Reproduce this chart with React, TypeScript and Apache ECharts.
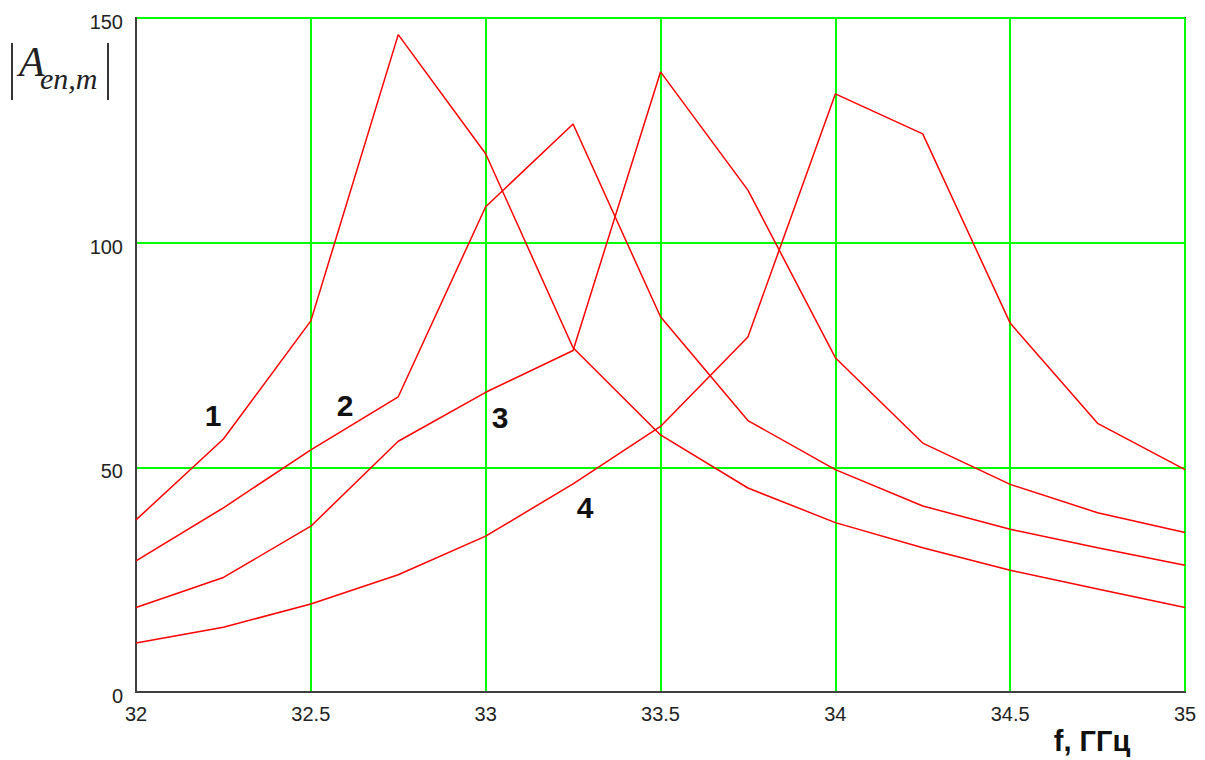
import React, { useEffect, useRef } from "react";
import * as echarts from "echarts";

const freq = [32, 32.25, 32.5, 32.75, 33, 33.25, 33.5, 33.75, 34, 34.25, 34.5, 34.75, 35];
const curve1 = [38.3, 56.3, 82.6, 146.3, 119.8, 76.6, 57.2, 45.4, 37.7, 32.1, 27.1, 22.9, 18.8];
const curve2 = [29.2, 41.0, 53.9, 65.7, 108.0, 126.4, 83.5, 60.4, 49.5, 41.4, 36.2, 32.1, 28.2];
const curve3 = [18.8, 25.5, 36.9, 55.8, 66.7, 76.0, 138.0, 111.7, 74.4, 55.4, 46.2, 39.9, 35.5];
const curve4 = [10.9, 14.4, 19.6, 26.1, 34.7, 46.3, 59.1, 79.0, 133.1, 124.2, 82.1, 59.8, 49.5];
const curveNames = ["1", "2", "3", "4"];
const xTitle = "f, ГГц";

export default function App() {
  const ref = useRef<HTMLDivElement>(null);
  useEffect(() => {
    if (!ref.current) return;
    const chart = echarts.init(ref.current, null, { renderer: "svg" });
    const all = [curve1, curve2, curve3, curve4];
    const series = all.map((c, i) => ({
      name: curveNames[i],
      type: "line",
      data: freq.map((f, j) => [f, c[j]]),
      showSymbol: false,
      symbol: "none",
      lineStyle: { color: "#ff0000", width: 1.5 },
      z: 5,
    }));
    const labelFont = {
      fontFamily: "Liberation Sans, Arial, sans-serif",
      fontWeight: "bold",
      fontSize: 30,
      fill: "#111",
    };
    const labelPos = [
      [213, 415],
      [345, 405],
      [500, 417],
      [585, 507],
    ];
    chart.setOption({
      animation: false,
      backgroundColor: "#ffffff",
      grid: {
        left: 136,
        right: 20,
        top: 18,
        bottom: 68,
        show: true,
        borderColor: "#404040",
        borderWidth: 2,
        backgroundColor: "#ffffff",
      },
      xAxis: {
        type: "value",
        min: 32,
        max: 35,
        interval: 0.5,
        axisLine: { show: true, lineStyle: { color: "#404040", width: 2 } },
        axisTick: { show: false },
        axisLabel: {
          color: "#222",
          fontSize: 20,
          fontFamily: "Liberation Sans, Arial, sans-serif",
          margin: 12,
        },
        splitLine: { show: true, lineStyle: { color: "#00ff00", width: 2 } },
      },
      yAxis: {
        type: "value",
        min: 0,
        max: 150,
        interval: 50,
        axisLine: { show: true, lineStyle: { color: "#404040", width: 2 } },
        axisTick: { show: false },
        axisLabel: {
          color: "#222",
          fontSize: 20,
          fontFamily: "Liberation Sans, Arial, sans-serif",
          margin: 13,
          verticalAlign: "top",
          padding: [-6, 0, 0, 0],
        },
        splitLine: { show: true, lineStyle: { color: "#00ff00", width: 2 } },
      },
      series,
      graphic: [
        ...curveNames.map((n, i) => ({
          type: "text",
          x: labelPos[i][0],
          y: labelPos[i][1],
          z: 10,
          style: { text: n, ...labelFont, align: "center", verticalAlign: "middle" },
        })),
        {
          type: "text",
          x: 1092,
          y: 741,
          z: 10,
          style: {
            text: xTitle,
            fontFamily: "Liberation Sans, Arial, sans-serif",
            fontWeight: "bold",
            fontSize: 29,
            fill: "#111",
            align: "center",
            verticalAlign: "middle",
          },
        },
        {
          type: "line",
          shape: { x1: 12, y1: 43, x2: 12, y2: 100 },
          style: { stroke: "#333", lineWidth: 2 },
        },
        {
          type: "line",
          shape: { x1: 108, y1: 43, x2: 108, y2: 100 },
          style: { stroke: "#333", lineWidth: 2 },
        },
        {
          type: "text",
          x: 19,
          y: 83,
          style: {
            text: "A",
            fontFamily: "Liberation Serif, Times New Roman, serif",
            fontStyle: "italic",
            fontSize: 42,
            fill: "#222",
            align: "left",
            verticalAlign: "bottom",
          },
        },
        {
          type: "text",
          x: 40,
          y: 93,
          style: {
            text: "en,m",
            fontFamily: "Liberation Serif, Times New Roman, serif",
            fontStyle: "italic",
            fontSize: 30,
            fill: "#222",
            align: "left",
            verticalAlign: "bottom",
          },
        },
      ],
    });
    return () => chart.dispose();
  }, []);
  return (
    <div
      ref={ref}
      style={{ position: "fixed", left: 0, top: 0, width: 1205, height: 760 }}
    />
  );
}
